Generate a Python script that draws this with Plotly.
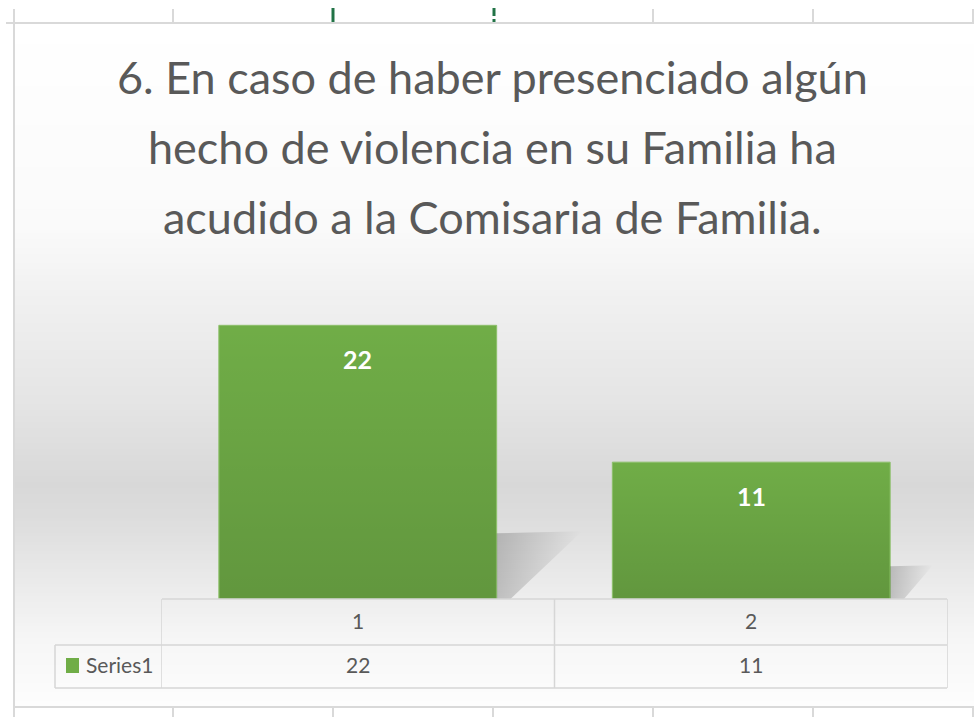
import plotly.graph_objects as go

# ---------------- data ----------------
categories = ["1", "2"]
series_name = "Series1"
values = [22, 11]
title_lines = [
    "6. En caso de haber presenciado algún",
    "hecho de violencia en su Familia ha",
    "acudido a la Comisaria de Familia.",
]
y_max = 25

# ---------------- style ----------------
W, H = 974, 717
FONT = "Lato, Liberation Sans, sans-serif"
GREEN = "#70ad47"
TXT = "#595959"
GRID = "#d9d9d9"


def px(x):
    return x / W


def py(y):
    return 1 - y / H


plot_l, plot_r = 161, 948
plot_top, plot_bot = 288, 599
ppu = (plot_bot - plot_top) / y_max
xpu = (plot_r - plot_l) / len(categories)
bw = 0.706

xs = list(range(1, len(categories) + 1))
fig = go.Figure()

# bar shadows (derived from data)
for x, v in zip(xs, values):
    sh = 0.24 * v
    dx = 1.3 * sh * ppu / xpu
    xr = x + bw / 2
    fig.add_trace(go.Scatter(
        x=[xr, xr, xr + dx, xr + 0.035, xr], y=[0, sh, sh * 1.03, 0, 0],
        fill="toself", mode="none",
        fillgradient=dict(type="horizontal",
                          colorscale=[[0, "rgba(0,0,0,0.20)"], [0.5, "rgba(0,0,0,0.10)"],
                                      [1, "rgba(0,0,0,0)"]]),
        hoverinfo="skip", showlegend=False))

# bars
fig.add_trace(go.Bar(
    x=xs, y=values, width=bw, name=series_name, showlegend=False,
    marker=dict(color=GREEN, line=dict(color="#8cbf6a", width=1)),
    hoverinfo="skip"))

# subtle vertical darkening on bars
for x, v in zip(xs, values):
    x0, x1 = x - bw / 2 + 0.002, x + bw / 2 - 0.002
    fig.add_trace(go.Scatter(
        x=[x0, x1, x1, x0, x0], y=[0, 0, v, v, 0],
        fill="toself", mode="none",
        fillgradient=dict(type="vertical",
                          colorscale=[[0, "rgba(0,0,0,0.13)"], [1, "rgba(0,0,0,0)"]]),
        hoverinfo="skip", showlegend=False))

# data labels
for x, v in zip(xs, values):
    fig.add_annotation(x=x, y=v, xref="x", yref="y", text=f"<b>{v}</b>", showarrow=False,
                       yanchor="middle", yshift=-34,
                       font=dict(color="white", size=25, family=FONT))

shapes = []

# background gradient of chart area
stops = [(23, 255), (230, 250), (300, 240), (400, 229), (485, 216),
         (520, 221), (580, 234), (640, 246), (707, 253)]


def gray_at(y):
    for (y0, g0), (y1, g1) in zip(stops, stops[1:]):
        if y0 <= y <= y1:
            t = (y - y0) / (y1 - y0)
            return g0 + t * (g1 - g0)
    return stops[-1][1]


step = 3
y = 23
while y < 707:
    g = int(round(gray_at(y + step / 2)))
    shapes.append(dict(type="rect", xref="paper", yref="paper",
                       x0=px(15), x1=px(974), y0=py(min(y + step, 707)), y1=py(y),
                       fillcolor=f"rgb({g},{g},{g})", line=dict(width=0), layer="below"))
    y += step


# spreadsheet frame lines
def hline(x0, x1, yy, color=GRID, w=2):
    shapes.append(dict(type="line", xref="paper", yref="paper", x0=px(x0), x1=px(x1),
                       y0=py(yy), y1=py(yy), line=dict(color=color, width=w)))


def vline(xx, y0, y1, color=GRID, w=2):
    shapes.append(dict(type="line", xref="paper", yref="paper", x0=px(xx), x1=px(xx),
                       y0=py(y0), y1=py(y1), line=dict(color=color, width=w)))


hline(6, 974, 23)
hline(14, 974, 707)
vline(14, 9, 717)
for gx in [173, 653, 813, 973]:
    vline(gx, 9, 23)
for gx in [173, 333, 493, 653, 813, 973]:
    vline(gx, 707, 717)
vline(333, 8, 22, color="#217346", w=3)
vline(494, 8, 16, color="#217346", w=3)
vline(494, 19, 22, color="#217346", w=3)

# data table (column dividers at category boundaries in data coords)
tc = "#d6d6d6"
row_top, row_mid, row_bot = 599, 645, 688
hline(plot_l + 1, plot_r - 1, row_top, tc, 1.5)
hline(55, plot_r - 1, row_mid, tc, 1.5)
hline(55, plot_r - 1, row_bot, tc, 1.5)
vline(55, row_mid, row_bot, tc, 1.5)
for b in [0.5 + i for i in range(len(categories) + 1)]:
    shapes.append(dict(type="line", xref="x", yref="paper", x0=b, x1=b,
                       y0=py(row_top), y1=py(row_bot), line=dict(color=tc, width=1.5)))

# legend key
shapes.append(dict(type="rect", xref="paper", yref="paper", x0=px(66), x1=px(79),
                   y0=py(673), y1=py(658), fillcolor=GREEN, line=dict(width=0)))

for x, c, v in zip(xs, categories, values):
    fig.add_annotation(x=x, y=py(620), xref="x", yref="paper", text=c, showarrow=False,
                       yanchor="middle", font=dict(color=TXT, size=21, family=FONT))
    fig.add_annotation(x=x, y=py(664), xref="x", yref="paper", text=str(v), showarrow=False,
                       yanchor="middle", font=dict(color=TXT, size=21, family=FONT))
fig.add_annotation(x=px(84), y=py(664), xref="paper", yref="paper", text=series_name,
                   showarrow=False, xanchor="left", yanchor="middle",
                   font=dict(color=TXT, size=21, family=FONT))

# title lines
for i, line in enumerate(title_lines):
    fig.add_annotation(x=px(492), y=py(77 + 70 * i), xref="paper", yref="paper", text=line,
                       showarrow=False, xanchor="center", yanchor="middle",
                       font=dict(color=TXT, size=45, family=FONT))

fig.update_layout(
    width=W, height=H, autosize=False,
    margin=dict(l=0, r=0, t=0, b=0),
    paper_bgcolor="white", plot_bgcolor="rgba(0,0,0,0)",
    shapes=shapes, showlegend=False,
    xaxis=dict(domain=[px(plot_l), px(plot_r)], range=[0.5, 0.5 + len(categories)],
               visible=False, fixedrange=True),
    yaxis=dict(domain=[py(plot_bot), py(plot_top)], range=[0, y_max],
               visible=False, fixedrange=True),
)

fig.write_html("out.html", config={"displayModeBar": False},
               post_script="document.body.style.margin='0';document.body.style.overflow='hidden';")
